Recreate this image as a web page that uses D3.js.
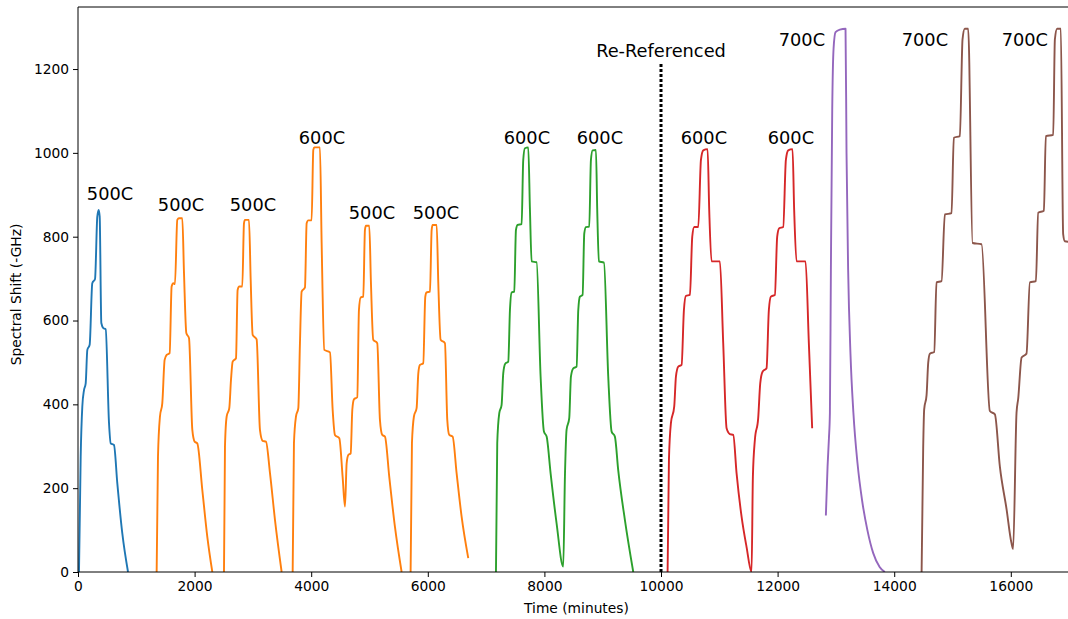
<!DOCTYPE html>
<html>
<head>
<meta charset="utf-8">
<script src="https://cdn.jsdelivr.net/npm/d3@7"></script>
<style>
  html, body { margin: 0; padding: 0; background: #fff; }
  svg { display: block; }
  text { font-family: "DejaVu Sans", sans-serif; fill: #000; }
</style>
</head>
<body>
<svg id="chart" width="1068" height="619"></svg>
<script>
// Spectral shift of the sensor through repeated heating cycles: [time (min), shift (-GHz)]
const blueRun = [
  [17,0],[46,275],[74,395],[103,434],[132,450],[160,530],[200,542],[245,689],[292,699],
  [331,848],[355,864],[372,848],[400,594],[434,582],[475,579],[532,355],[561,307],[617,303],
  [674,212],[760,92],[858,0]
];
const orangeRun1 = [
  [1349,0],[1372,275],[1406,371],[1446,403],[1486,506],[1521,518],[1572,522],[1606,681],
  [1635,689],[1663,687],[1703,840],[1732,844],[1789,844],[1818,714],[1858,570],[1904,558],
  [1961,339],[2001,311],[2046,307],[2132,196],[2218,84],[2304,0]
];
const orangeRun2 = [
  [2504,0],[2521,299],[2550,371],[2595,391],[2624,458],[2653,502],[2710,510],[2738,673],
  [2767,681],[2818,681],[2847,832],[2864,840],[2933,840],[2962,697],[2996,566],[3064,555],
  [3121,339],[3167,313],[3224,311],[3293,236],[3379,124],[3493,0]
];
const orangeRun3 = [
  [3682,0],[3704,307],[3739,371],[3779,391],[3807,546],[3836,669],[3893,679],[3922,832],
  [3950,839],[4007,839],[4036,1007],[4053,1013],[4150,1013],[4179,785],[4225,530],[4322,524],
  [4368,387],[4407,327],[4482,319],[4539,227],[4579,156],[4608,259],[4636,279],[4677,283],
  [4705,387],[4733,412],[4790,417],[4819,625],[4848,655],[4893,657],[4922,816],[4939,826],
  [4996,826],[5025,689],[5064,554],[5133,546],[5179,363],[5219,327],[5265,323],[5339,227],
  [5436,108],[5551,0]
];
const orangeRun4 = [
  [5705,0],[5728,307],[5762,371],[5808,391],[5837,474],[5865,494],[5922,498],[5957,657],
  [5979,667],[6037,669],[6066,816],[6083,828],[6152,828],[6180,689],[6220,554],[6294,546],
  [6334,363],[6368,327],[6426,323],[6494,236],[6580,132],[6694,33]
];
const greenRun = [
  [7169,0],[7191,307],[7226,379],[7266,399],[7294,474],[7328,497],[7380,502],[7409,625],
  [7438,667],[7483,669],[7512,816],[7541,828],[7609,830],[7637,983],[7666,1011],[7723,1013],
  [7752,864],[7781,741],[7866,739],[7935,466],[7992,335],[8038,323],[8106,236],[8209,116],
  [8323,13],[8352,227],[8380,339],[8426,367],[8455,466],[8495,486],[8552,490],[8581,625],
  [8609,657],[8655,661],[8684,808],[8712,823],[8769,824],[8798,983],[8827,1006],[8884,1007],
  [8906,864],[8935,741],[9021,738],[9095,466],[9153,335],[9209,323],[9266,243],[9381,124],
  [9524,0]
];
const redRun = [
  [10113,0],[10136,267],[10170,355],[10227,395],[10256,466],[10296,490],[10353,494],[10393,625],
  [10427,659],[10496,661],[10536,800],[10570,823],[10639,823],[10685,983],[10725,1006],[10799,1009],
  [10827,864],[10867,741],[11010,741],[11067,546],[11125,343],[11182,329],[11239,327],[11296,236],
  [11382,132],[11467,60],[11553,0],[11576,227],[11610,315],[11667,367],[11702,450],[11742,478],
  [11810,486],[11850,625],[11885,657],[11953,661],[11993,800],[12027,820],[12096,823],[12142,983],
  [12182,1006],[12256,1009],[12284,864],[12325,741],[12479,741],[12536,546],[12593,343]
];
const purpleRun = [
  [12828,135],[12857,252],[12880,318],[12897,380],[12914,721],[12937,1104],[12960,1249],
  [12994,1288],[13068,1294],[13165,1296],[13182,1000],[13210,720],[13250,520],[13300,380],
  [13370,260],[13450,170],[13540,100],[13640,45],[13750,12],[13840,0]
];
const brownRun = [
  [14470,0],[14497,295],[14514,388],[14555,422],[14583,499],[14612,521],[14686,525],[14726,691],
  [14812,694],[14869,853],[14983,856],[15023,1036],[15126,1040],[15172,1271],[15211,1296],
  [15269,1296],[15344,785],[15498,782],[15641,384],[15727,376],[15812,252],[15927,150],
  [16010,70],[16040,55],[16098,380],[16127,414],[16185,512],[16269,521],[16327,691],[16430,694],
  [16470,857],[16567,862],[16601,1040],[16727,1043],[16756,1271],[16795,1296],[16858,1296],
  [16898,806],[16927,789],[16990,788]
];

// Temperature annotations: [label, time, shift]
const cycleLabels = [
  ["500C",549,888],["500C",1767,862],["500C",3001,862],["600C",4185,1022],
  ["500C",5042,843],["500C",6140,843],["600C",7700,1022],["600C",8952,1022],
  ["600C",10736,1022],["600C",12228,1022],["700C",12417,1256],["700C",14526,1256],
  ["700C",16241,1256]
];
const referenceTime = 10000;
const referenceTop = 1215;
const referenceLabel = ["Re-Referenced", 10000, 1229];

const xTicks = [0,2000,4000,6000,8000,10000,12000,14000,16000];
const yTicks = [0,200,400,600,800,1000,1200];

const series = [
  { runs: [blueRun], color: "#1f77b4" },
  { runs: [orangeRun1, orangeRun2, orangeRun3, orangeRun4], color: "#ff7f0e" },
  { runs: [greenRun], color: "#2ca02c" },
  { runs: [redRun], color: "#d62728" },
  { runs: [purpleRun], color: "#9467bd" },
  { runs: [brownRun], color: "#8c564b" }
];

const svg = d3.select("#chart");
const plotLeft = 78, plotRight = 1068, plotTop = 7, plotBottom = 572;

const x = d3.scaleLinear().domain([0, 16981]).range([plotLeft, plotRight]);
const y = d3.scaleLinear().domain([0, 1348]).range([plotBottom, plotTop]);

svg.append("defs").append("clipPath").attr("id", "plot-clip")
  .append("rect").attr("x", plotLeft).attr("y", plotTop)
  .attr("width", plotRight - plotLeft).attr("height", plotBottom - plotTop);

const line = d3.line()
  .x(d => x(d[0]))
  .y(d => y(d[1]))
  .curve(d3.curveMonotoneX);

const plot = svg.append("g").attr("clip-path", "url(#plot-clip)");
series.forEach(s => {
  s.runs.forEach(run => {
    plot.append("path")
      .datum(run)
      .attr("d", line)
      .attr("fill", "none")
      .attr("stroke", s.color)
      .attr("stroke-width", 1.9)
      .attr("stroke-linejoin", "round");
  });
});

// Re-referencing marker
plot.append("line")
  .attr("x1", x(referenceTime)).attr("x2", x(referenceTime))
  .attr("y1", y(0)).attr("y2", y(referenceTop))
  .attr("stroke", "#000")
  .attr("stroke-width", 3)
  .attr("stroke-dasharray", "3,2");

// Axes
const xAxis = d3.axisBottom(x).tickValues(xTicks).tickSize(5).tickPadding(4).tickFormat(d3.format("d"));
const yAxis = d3.axisLeft(y).tickValues(yTicks).tickSize(5).tickPadding(4).tickFormat(d3.format("d"));

const gx = svg.append("g").attr("transform", `translate(0,${plotBottom})`).call(xAxis);
const gy = svg.append("g").attr("transform", `translate(${plotLeft},0)`).call(yAxis);
[gx, gy].forEach(g => {
  g.select(".domain").remove();
  g.selectAll(".tick line").attr("stroke", "#000").attr("stroke-width", 1);
  g.selectAll(".tick text").attr("font-size", 13.8).attr("font-family", "DejaVu Sans").attr("fill", "#000");
});

// Spines
const spine = (x1, y1, x2, y2) => svg.append("line")
  .attr("x1", x1).attr("y1", y1).attr("x2", x2).attr("y2", y2)
  .attr("stroke", "#000").attr("stroke-width", 1);
spine(plotLeft, plotBottom, plotRight, plotBottom);
spine(plotLeft, plotTop, plotRight, plotTop);
spine(plotLeft, plotTop, plotLeft, plotBottom);

// Axis titles
svg.append("text")
  .attr("x", x(8550))
  .attr("y", 613)
  .attr("text-anchor", "middle")
  .attr("font-size", 13.8)
  .text("Time (minutes)");

svg.append("text")
  .attr("transform", `translate(21,${(plotTop + plotBottom) / 2 + 5}) rotate(-90)`)
  .attr("text-anchor", "middle")
  .attr("font-size", 13.8)
  .text("Spectral Shift (-GHz)");

// Annotations
svg.append("g").selectAll("text")
  .data(cycleLabels)
  .join("text")
  .attr("x", d => x(d[1]))
  .attr("y", d => y(d[2]))
  .attr("text-anchor", "middle")
  .attr("font-size", 17.8)
  .text(d => d[0]);

svg.append("text")
  .attr("x", x(referenceLabel[1]))
  .attr("y", y(referenceLabel[2]))
  .attr("text-anchor", "middle")
  .attr("font-size", 17.8)
  .text(referenceLabel[0]);
</script>
</body>
</html>
